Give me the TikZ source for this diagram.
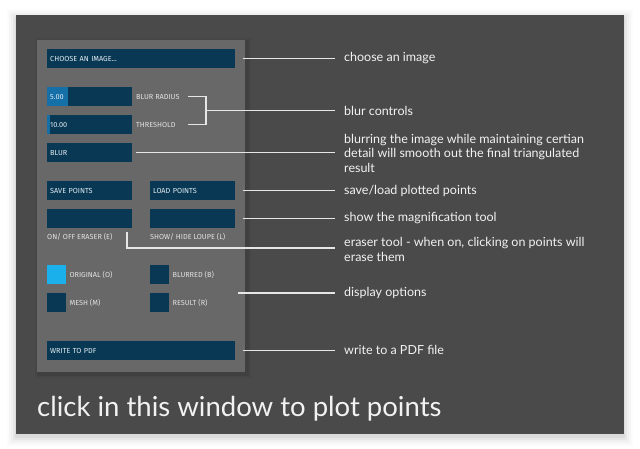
\documentclass[tikz,border=0pt]{standalone}
\usepackage{fontspec}
\setmainfont{Lato}
\newfontfamily\pixfont{Fira Sans}
\usepackage{tikz}
\usetikzlibrary{calc}
\usetikzlibrary{positioning}
\definecolor{windowgray}{HTML}{4A4A4A}
\definecolor{panelgray}{HTML}{686868}
\definecolor{btnblue}{HTML}{083854}
\definecolor{sliderblue}{HTML}{1570A8}
\definecolor{brightblue}{HTML}{1AB0EC}
\definecolor{btntext}{HTML}{E4ECF2}
\definecolor{labeltext}{HTML}{E2E2E2}
\definecolor{notetext}{HTML}{F2F2F2}
\definecolor{linewhite}{HTML}{E6E6E6}
\tikzstyle{button}=[fill=btnblue, draw=none, shape=rectangle, anchor=north west, inner xsep=3pt, inner ysep=0pt, minimum height=19pt, align=left, font=\pixfont\fontsize{7.3}{8}\selectfont, text=btntext]
\tikzstyle{checkbox}=[fill=btnblue, draw=none, shape=rectangle, anchor=north west, inner sep=0pt, minimum size=19pt]
\tikzstyle{panellabel}=[shape=rectangle, inner sep=1pt, text=labeltext, font=\pixfont\fontsize{7.3}{8}\selectfont]
\tikzstyle{note}=[shape=rectangle, anchor=west, inner sep=1pt, align=left, text=notetext, font=\fontsize{12.5}{14.5}\selectfont]
\tikzstyle{link}=[draw=linewhite, line width=1.2pt]

\begin{document}
\begin{tikzpicture}[x=1pt, y=-1pt]
\useasboundingbox (0,0) rectangle (640,449);
\fill[white] (0,0) rectangle (640,449);
% soft shadow round the window
\foreach \s/\o in {9/0.015, 7/0.02, 5/0.025, 3/0.035, 1/0.05}
  \fill[black, opacity=\o] (16-\s,15-\s+3) rectangle (624+\s,434+\s+3);
\node [fill=windowgray, shape=rectangle, inner sep=0pt, anchor=north west, minimum width=608pt, minimum height=419pt] (window) at (16,15) {};
\foreach \s/\o in {4/0.05, 2/0.08}
  \fill[black, opacity=\o] (37-\s+2,40-\s+2) rectangle (245+\s+2,372+\s+2);
\node [fill=panelgray, shape=rectangle, inner sep=0pt, anchor=north west, minimum width=208pt, minimum height=332pt] (panel) at (37,40) {};

\node [button, text width=182pt] (choose) at (47,49) {CHOOSE AN IMAGE...};
\node [button, text width=79pt, path picture={\fill[sliderblue] (path picture bounding box.north west) rectangle ++(21,19);}] (radius) at (47,87) {5.00};
\node [button, text width=79pt, path picture={\fill[sliderblue] (path picture bounding box.north west) rectangle ++(3,19);}] (thresh) at (47,115) {10.00};
\node [panellabel, anchor=west] (lradius) at (135,96.5) {BLUR RADIUS};
\node [panellabel, anchor=west] (lthresh) at (135,124.5) {THRESHOLD};
\node [button, text width=79pt] (blur) at (47,143) {BLUR};
\node [button, text width=79pt] (save) at (47,181) {SAVE POINTS};
\node [button, text width=79pt] (load) at (150,181) {LOAD POINTS};
\node [button, text width=79pt] (eraser) at (47,209) {};
\node [button, text width=79pt] (loupe) at (150,209) {};
\node [panellabel, anchor=north west, inner xsep=0pt] (leraser) at ($(eraser.south west)+(0,4)$) {ON/ OFF ERASER (E)};
\node [panellabel, anchor=north west, inner xsep=0pt] (lloupe) at ($(loupe.south west)+(0,4)$) {SHOW/ HIDE LOUPE (L)};
\node [checkbox, fill=brightblue] (original) at (47,265) {};
\node [checkbox] (blurred) at (150,265) {};
\node [checkbox] (mesh) at (47,293) {};
\node [checkbox] (result) at (150,293) {};
\node [panellabel, right=2pt of original] (loriginal) {ORIGINAL (O)};
\node [panellabel, right=2pt of blurred] (lblurred) {BLURRED (B)};
\node [panellabel, right=2pt of mesh] (lmesh) {MESH (M)};
\node [panellabel, right=2pt of result] (lresult) {RESULT (R)};
\node [button, text width=182pt] (writepdf) at (47,341) {WRITE TO PDF};

\node [note] (tchoose) at (343,58) {choose an image};
\node [note] (tblurc) at (343,110.5) {blur controls};
\node [note] (tblurring) at (343,153) {blurring the image while maintaining certian\\detail will smooth out the final triangulated\\result};
\node [note] (tsaveload) at (343,191) {save/load plotted points};
\node [note] (tloupe) at (343,218.5) {show the magnification tool};
\node [note] (terase) at (343,249.5) {eraser tool - when on, clicking on points will\\erase them};
\node [note] (tdisplay) at (343,293) {display options};
\node [note] (twrite) at (343,350) {write to a PDF file};
\node [anchor=base west, inner sep=0pt, text=notetext, font=\fontsize{27.5}{28}\selectfont] (tclick) at (37,416) {click in this window to plot points};

\coordinate (brk) at (206,110.5);
\coordinate (ebend) at (127,248);
\coordinate (dstart) at (238,293);

\draw[link, shorten <=8pt, shorten >=8pt] (choose.east) -- (choose.east -| tchoose.west);
\draw[link] ($(brk |- lradius)+(-18,0)$) -- (brk |- lradius) -- (brk |- lthresh) -- ++(-18,0);
\draw[link, shorten >=8pt] (brk) -- (brk -| tblurc.west);
\draw[link, shorten <=4pt, shorten >=8pt] (blur.east) -- (blur.east -| tblurring.west);
\draw[link, shorten <=8pt, shorten >=8pt] (load.east) -- (load.east -| tsaveload.west);
\draw[link, shorten <=8pt, shorten >=8pt] (loupe.east) -- (loupe.east -| tloupe.west);
\draw[link, shorten >=8pt] (ebend |- leraser.north) -- (ebend) -- (ebend -| terase.west);
\draw[link, shorten >=8pt] (dstart) -- (dstart -| tdisplay.west);
\draw[link, shorten <=8pt, shorten >=8pt] (writepdf.east) -- (writepdf.east -| twrite.west);
\end{tikzpicture}
\end{document}
